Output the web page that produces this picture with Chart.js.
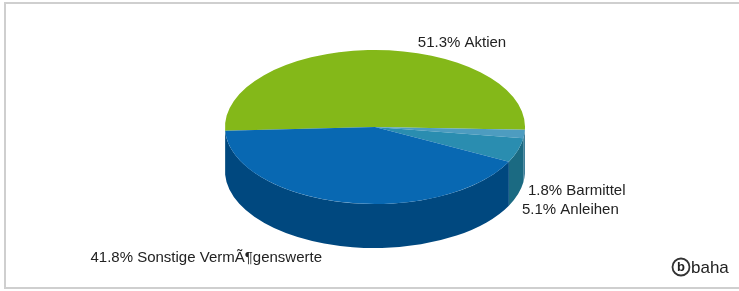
<!DOCTYPE html>
<html>
<head>
<meta charset="utf-8">
<script src="https://cdn.jsdelivr.net/npm/chart.js@4.4.1/dist/chart.umd.min.js"></script>
<style>
html, body { margin: 0; padding: 0; background: #fff; }
#wrap { position: relative; width: 739px; height: 291px; overflow: hidden; }
#frame { position: absolute; left: 4px; top: 2px; width: 800px; height: 287px; border: 2px solid #cfcfcf; box-sizing: border-box; }
canvas { position: absolute; left: 0; top: 0; }
</style>
</head>
<body>
<div id="wrap"><div id="frame"></div><canvas id="c" width="739" height="291"></canvas></div>
<script>
/* Vermoegensaufteilung — 3D pie drawn from Chart.js arcs */
var assetNames  = ['Aktien', 'Barmittel', 'Anleihen', 'Sonstige VermÃ¶genswerte'];
var assetShares = [51.3, 1.8, 5.1, 41.8];
var topColors   = ['#84b819', '#4d9cc0', '#2a8db0', '#0868b2'];
var sideColors  = ['#5d8a0e', '#2f7391', '#1b6a82', '#00487f'];
// label anchors: x, y, alignment
var labelSpots  = [[462, 43, 'center'], [528, 191, 'left'], [522, 210, 'left'], [322, 258, 'right']];

var tilt = 77 / 150, depth = 44;
var font = '15px "Liberation Sans", Arial, sans-serif';

var pie3d = {
    id: 'pie3d',
    beforeDatasetsDraw: function(chart) {
        var ctx = chart.ctx;
        var arcs = chart.getDatasetMeta(0).data;
        var cx = arcs[0].x, cy = arcs[0].y, rx = arcs[0].outerRadius, ry = rx * tilt;
        // front walls, only the part between 0 and PI is visible
        arcs.forEach(function(arc, i) {
            [0, 2 * Math.PI, -2 * Math.PI].forEach(function(shift) {
                var s = Math.max(arc.startAngle + shift, 0);
                var e = Math.min(arc.endAngle + shift, Math.PI);
                if (e <= s) return;
                ctx.beginPath();
                ctx.ellipse(cx, cy, rx, ry, 0, s, e);
                ctx.ellipse(cx, cy + depth, rx, ry, 0, e, s, true);
                ctx.closePath();
                ctx.fillStyle = sideColors[i];
                ctx.fill();
            });
        });
        ctx.save();
        ctx.translate(cx, cy);
        ctx.scale(1, tilt);
        ctx.translate(-cx, -cy);
    },
    afterDatasetsDraw: function(chart) {
        chart.ctx.restore();
    },
    afterDraw: function(chart) {
        var ctx = chart.ctx;
        ctx.save();
        ctx.font = font;
        ctx.fillStyle = '#222';
        ctx.textBaseline = 'middle';
        assetShares.forEach(function(v, i) {
            ctx.textAlign = labelSpots[i][2];
            ctx.fillText(v.toFixed(1) + '% ' + assetNames[i], labelSpots[i][0], labelSpots[i][1]);
        });
        // baha logo
        ctx.strokeStyle = '#333';
        ctx.lineWidth = 1.8;
        ctx.beginPath();
        ctx.arc(681, 267, 8.5, 0, 2 * Math.PI);
        ctx.stroke();
        ctx.textAlign = 'center';
        ctx.font = 'bold 13px "Liberation Sans", Arial, sans-serif';
        ctx.fillText('b', 681, 267);
        ctx.textAlign = 'left';
        ctx.font = '17px "Liberation Sans", Arial, sans-serif';
        ctx.fillText('baha', 691, 268);
        ctx.restore();
    }
};

new Chart(document.getElementById('c'), {
    type: 'pie',
    data: {
        labels: assetNames,
        datasets: [{ data: assetShares, backgroundColor: topColors, borderWidth: 0, clip: false }]
    },
    options: {
        responsive: false,
        devicePixelRatio: 1,
        animation: false,
        events: [],
        rotation: -92.7,
        radius: 150,
        layout: { padding: { left: 11, right: 0, top: 0, bottom: 37 } },
        plugins: { legend: { display: false }, tooltip: { enabled: false } }
    },
    plugins: [pie3d]
});
</script>
</body>
</html>
